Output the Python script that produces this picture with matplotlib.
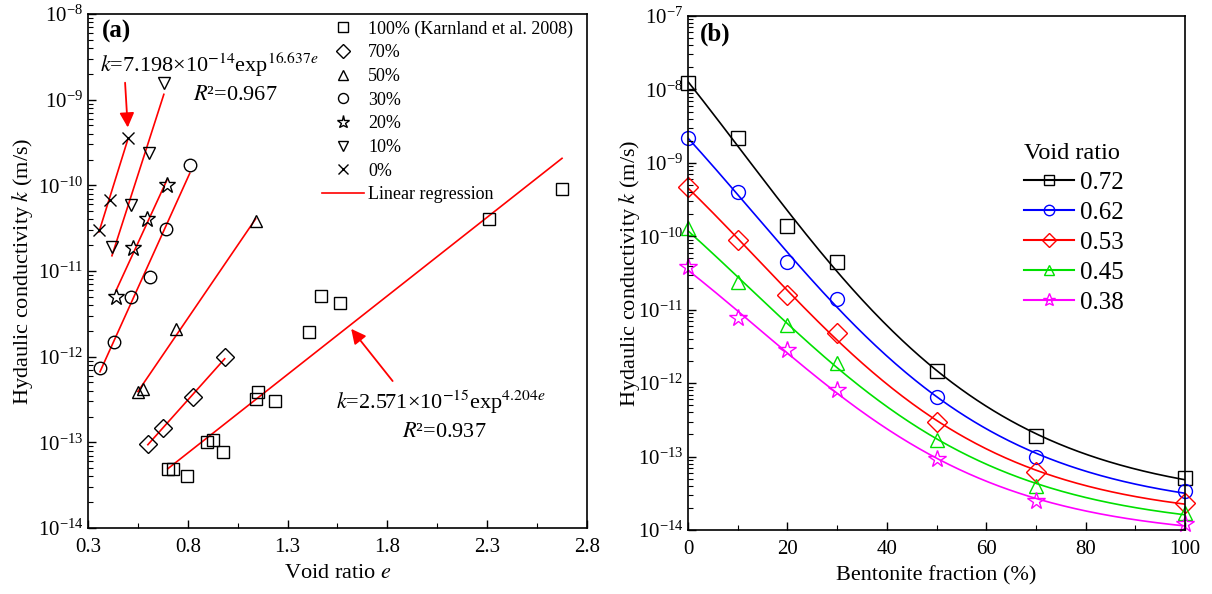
import numpy as np
import matplotlib
matplotlib.use("Agg")
import matplotlib.pyplot as plt
from matplotlib.ticker import LogLocator, MultipleLocator, NullFormatter

plt.rcParams['font.family'] = ['Liberation Serif', 'DejaVu Serif']
plt.rcParams['mathtext.fontset'] = 'stix'

# === (a) data: void ratio e vs k (m/s) ===
e_100 = [0.70, 0.725, 0.795, 0.895, 0.925, 0.975, 1.14, 1.15, 1.235, 1.405, 1.465, 1.565, 2.31, 2.675]
k_100 = [4.9e-14, 4.9e-14, 4.0e-14, 1.0e-13, 1.07e-13, 7.8e-14, 3.2e-13, 3.9e-13, 3.0e-13,
         1.95e-12, 5.1e-12, 4.2e-12, 4.0e-11, 9.1e-11]
e_70 = [0.60, 0.675, 0.825, 0.985]
k_70 = [9.6e-14, 1.48e-13, 3.4e-13, 9.8e-13]
e_50 = [0.55, 0.575, 0.74, 1.14]
k_50 = [3.9e-13, 4.2e-13, 2.1e-12, 3.85e-11]
e_30 = [0.36, 0.43, 0.515, 0.61, 0.69, 0.81]
k_30 = [7.4e-13, 1.5e-12, 5.0e-12, 8.5e-12, 3.1e-11, 1.74e-10]
e_20 = [0.44, 0.525, 0.595, 0.695]
k_20 = [5.0e-12, 1.86e-11, 4.1e-11, 1.0e-10]
e_10 = [0.42, 0.515, 0.605, 0.68]
k_10 = [1.9e-11, 5.9e-11, 2.4e-10, 1.57e-9]
e_0 = [0.355, 0.41, 0.50]
k_0 = [3.0e-11, 6.8e-11, 3.57e-10]

groups_a = [
    ("100% (Karnland et al. 2008)", 's', e_100, k_100),
    ("70%", 'D', e_70, k_70),
    ("50%", '^', e_50, k_50),
    ("30%", 'o', e_30, k_30),
    ("20%", '*', e_20, k_20),
    ("10%", 'v', e_10, k_10),
    ("0%", 'x', e_0, k_0),
]

# === (b) data: bentonite fraction vs k ===
fraction = [0, 10, 20, 30, 50, 70, 100]
void_labels = ["0.72", "0.62", "0.53", "0.45", "0.38"]
k_072 = [1.22e-8, 2.2e-9, 1.4e-10, 4.5e-11, 1.45e-12, 1.9e-13, 5.1e-14]
k_062 = [2.2e-9, 4.0e-10, 4.5e-11, 1.4e-11, 6.4e-13, 1.0e-13, 3.4e-14]
k_053 = [4.7e-10, 8.9e-11, 1.6e-11, 4.8e-12, 3.0e-13, 6.2e-14, 2.3e-14]
k_045 = [1.3e-10, 2.4e-11, 6.2e-12, 1.9e-12, 1.7e-13, 4.0e-14, 1.7e-14]
k_038 = [3.8e-11, 7.7e-12, 2.8e-12, 8.0e-13, 9.2e-14, 2.5e-14, 1.2e-14]
series_b = [k_072, k_062, k_053, k_045, k_038]
colors_b = ['black', 'blue', 'red', '#00e000', 'magenta']
markers_b = ['s', 'o', 'D', '^', '*']

fig = plt.figure(figsize=(12.12, 5.94), dpi=100)
ax1 = fig.add_axes([0.0726, 0.1111, 0.4117, 0.8653])
ax2 = fig.add_axes([0.5677, 0.1077, 0.4100, 0.8653])


def style_log_axis(ax):
    ax.set_yscale('log')
    ax.yaxis.set_major_locator(LogLocator(base=10, numticks=20))
    ax.yaxis.set_minor_locator(LogLocator(base=10, subs=np.arange(2, 10), numticks=20))
    ax.yaxis.set_minor_formatter(NullFormatter())
    ax.tick_params(which='both', direction='in', top=False, right=False, labelsize=15)
    ax.tick_params(axis='x', pad=7)
    ax.tick_params(which='major', length=6, width=1)
    ax.tick_params(which='minor', length=3.5, width=0.8)
    for s in ax.spines.values():
        s.set_linewidth(1.2)


def sigmoid_fit(x, y):
    # log10 k = a + b / (1 + exp((x - x0) / s)), x0 and s by grid search
    x = np.asarray(x, float)
    best = None
    for x0 in np.linspace(-40, 80, 121):
        for s in np.linspace(4, 80, 77):
            A = np.column_stack([np.ones_like(x), 1.0 / (1.0 + np.exp((x - x0) / s))])
            c = np.linalg.lstsq(A, y, rcond=None)[0]
            r = np.sum((A @ c - y) ** 2)
            if best is None or r < best[0]:
                best = (r, x0, s, c)
    return best[1:]


# === Panel (a) ===
for label, m, e, k in groups_a:
    ms = 12 if m == '*' else 9
    ax1.plot(e, k, linestyle='none', marker=m, ms=ms, mfc='none', mec='black',
             mew=1.0, label=label)
    # linear regression of log(k) on e
    b, a = np.polyfit(e, np.log(k), 1)
    ee = np.array([min(e), max(e)])
    ax1.plot(ee, np.exp(a + b * ee), color='red', lw=1.2, zorder=1)
ax1.plot([], [], color='red', lw=1.2, label='Linear regression')

ax1.set_xlim(0.3, 2.8)
ax1.set_ylim(1e-14, 1e-8)
style_log_axis(ax1)
ax1.set_xticks([0.3, 0.8, 1.3, 1.8, 2.3, 2.8])
ax1.set_xticklabels(['0.3', '0.8', '1.3', '1.8', '2.3', '2.8'])
ax1.set_xticks([0.55, 1.05, 1.55, 2.05, 2.55], minor=True)
ax1.set_xlabel('Void ratio $e$', fontsize=16, labelpad=5)
ax1.set_ylabel('Hydaulic conductivity $k$ (m/s)', fontsize=16, labelpad=2)
ax1.text(0.028, 0.988, '(a)', transform=ax1.transAxes, fontsize=18,
         fontweight='bold', va='top')
ax1.legend(loc='upper left', bbox_to_anchor=(0.455, 1.002), frameon=False,
           fontsize=13, handlelength=2.3, handletextpad=0.25, markerscale=0.8,
           labelspacing=0.37, borderaxespad=0)

ax1.text(0.36, 2.1e-9, r'$k$=7.198×10$^{-14}$exp$^{16.637e}$', fontsize=16)
ax1.text(0.825, 1.0e-9, r'$R$²=0.967', fontsize=16)
ax1.annotate('', xy=(0.50, 4.4e-10), xytext=(0.485, 1.7e-9),
             arrowprops=dict(arrowstyle='-|>', color='red', lw=1.3,
                             mutation_scale=22))
ax1.text(1.545, 2.45e-13, r'$k$=2.571×10$^{-15}$exp$^{4.204e}$', fontsize=16)
ax1.text(1.875, 1.14e-13, r'$R$²=0.937', fontsize=16)
ax1.annotate('', xy=(1.61, 2.24e-12), xytext=(1.835, 4.9e-13),
             arrowprops=dict(arrowstyle='-|>', color='red', lw=1.3,
                             mutation_scale=22))

# === Panel (b) ===
xs = np.linspace(0, 100, 300)
for lab, k, c, m in zip(void_labels, series_b, colors_b, markers_b):
    x0, s, (a, b) = sigmoid_fit(fraction, np.log10(k))
    ax2.plot(xs, 10 ** (a + b / (1 + np.exp((xs - x0) / s))), color=c, lw=1.2, zorder=1)
    ms = 13 if m == '*' else 10
    ax2.plot(fraction, k, linestyle='none', marker=m, ms=ms, mfc='none', mec=c,
             mew=1.0, clip_on=False)
    ax2.plot([], [], color=c, lw=1.5, marker=m, ms=ms * 0.75, mfc='none', mec=c,
             label=lab)

ax2.set_xlim(0, 100)
ax2.set_ylim(1e-14, 1e-7)
style_log_axis(ax2)
ax2.xaxis.set_major_locator(MultipleLocator(20))
ax2.xaxis.set_minor_locator(MultipleLocator(10))
ax2.set_xlabel('Bentonite fraction (%)', fontsize=16, labelpad=5)
ax2.set_ylabel('Hydaulic conductivity $k$ (m/s)', fontsize=16, labelpad=-3)
ax2.text(0.024, 0.988, '(b)', transform=ax2.transAxes, fontsize=18,
         fontweight='bold', va='top')
leg = ax2.legend(title='Void ratio', loc='upper left', bbox_to_anchor=(0.655, 0.772),
                 frameon=False, fontsize=18, title_fontsize=17.5, handlelength=2.0,
                 handletextpad=0.25, labelspacing=0.3, borderaxespad=0)
leg._legend_box.align = 'left'

plt.savefig('out.png', dpi=100)
